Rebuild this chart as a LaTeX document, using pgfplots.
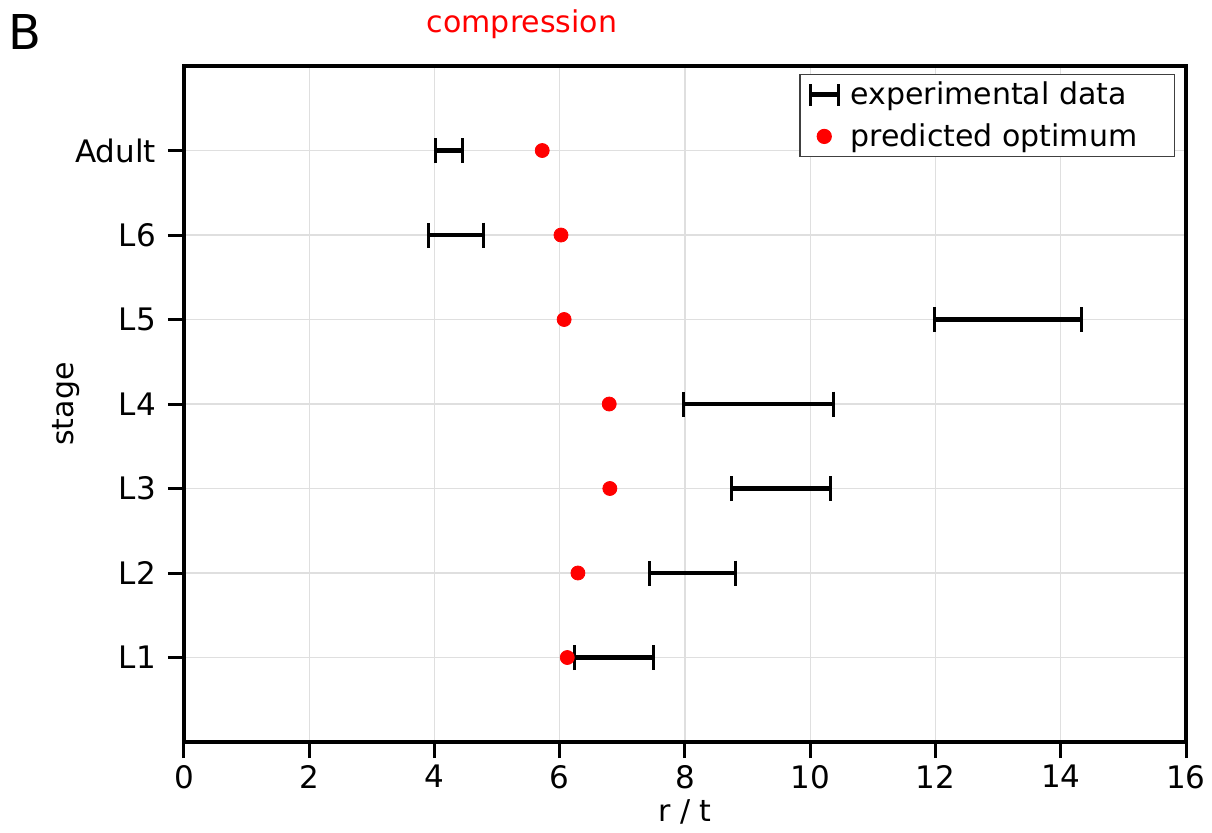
\documentclass[border=0pt]{standalone}
\usepackage{fontspec}
\setmainfont{DejaVu Sans}
\usepackage{pgfplots}
\pgfplotsset{compat=1.18}
\begin{document}
\begin{tikzpicture}
\begin{axis}[
    scale only axis,
    width=501pt, height=338pt,
    xmin=0, xmax=16, ymin=0, ymax=8,
    xtick={0,2,...,16},
    ytick={1,...,7},
    yticklabels={L1,L2,L3,L4,L5,L6,Adult},
    xlabel={r / t},
    ylabel={stage},
    xlabel style={at={(axis description cs:0.5,-0.1036)}, anchor=center},
    ylabel style={at={(axis description cs:-0.118,0.5)}, anchor=center},
    /pgf/number format/assume math mode=true,
    tick label style={font=\fontsize{15.5}{18}\selectfont},
    yticklabel style={xshift=-2.5pt},
    label style={font=\fontsize{15}{18}\selectfont},
    axis line style={line width=1.7pt},
    tick style={line width=1.5pt, black},
    tick align=outside,
    major tick length=8pt,
    xtick pos=bottom, ytick pos=left,
    grid=major,
    grid style={line width=0.6pt, draw=gray!25},
    legend style={at={(axis description cs:0.989,0.988)}, anchor=north east,
        font=\fontsize{15}{18}\selectfont, draw=black!75, line width=0.6pt,
        row sep=4pt, column sep=3pt, inner xsep=4pt, inner ysep=1.5pt},
    legend cell align=left,
]
\addplot[draw=none, mark=none, forget plot,
    error bars/.cd, x dir=both, x explicit,
    error bar style={line width=2.3pt, black},
    error mark options={rotate=90, line width=1.5pt, mark size=6.25pt, black}]
coordinates {
    (4.235,7) +- (0.215,0)
    (4.345,6) +- (0.435,0)
    (13.155,5) +- (1.175,0)
    (9.17,4) +- (1.2,0)
    (9.535,3) +- (0.785,0)
    (8.12,2) +- (0.68,0)
    (6.86,1) +- (0.63,0)
};
\addlegendimage{legend image code/.code={
    \draw[line width=2.3pt] (0pt,0pt) -- (14pt,0pt);
    \draw[line width=1.5pt] (0pt,-5.5pt) -- (0pt,5.5pt);
    \draw[line width=1.5pt] (14pt,-5.5pt) -- (14pt,5.5pt);}}
\addlegendentry{experimental data}
\addplot[only marks, mark=*, mark size=3.5pt, color=red,
    legend image code/.code={\fill[red] (7pt,0pt) circle (3.5pt);
        \path[draw=none, fill=none] (0pt,0pt) rectangle (14pt,0pt);}]
coordinates {
    (5.72,7) (6.02,6) (6.07,5) (6.79,4) (6.80,3) (6.29,2) (6.12,1)
};
\addlegendentry{predicted optimum\rule{12.5pt}{0pt}}
\end{axis}
\node[text=red, font=\fontsize{15}{18}\selectfont] at (169pt,359pt) {compression};
\node[font=\fontsize{24}{28}\selectfont] at (-79.5pt,355pt) {B};
\pgfresetboundingbox
\useasboundingbox (-92pt,-45pt) rectangle (514pt,371pt);
\end{tikzpicture}
\end{document}
